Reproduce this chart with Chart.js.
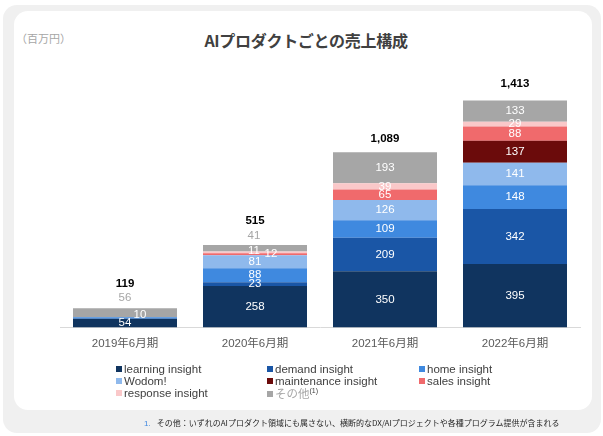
<!DOCTYPE html>
<html lang="ja">
<head>
<meta charset="utf-8">
<script src="https://cdn.jsdelivr.net/npm/chart.js@4.4.0/dist/chart.umd.min.js"></script>
<style>
  html, body { margin: 0; padding: 0; width: 603px; height: 436px; overflow: hidden; background: #fff;
    font-family: "Liberation Sans", Arial, "Noto Sans CJK JP", sans-serif; }
  #frame { position: absolute; left: 3px; top: 5px; width: 598px; height: 428px; background: #f0f0f0; border-radius: 14px; }
  #card { position: absolute; left: 14px; top: 11px; width: 578px; height: 399px; background: #fff; border-radius: 14px; }
  #unit { position: absolute; left: 16px; top: 30px; line-height: 16px; font-size: 11px; color: #a6a6a6; font-family: "Noto Sans CJK JP", sans-serif; }
  #title { position: absolute; left: 0; top: 30px; width: 612px; text-align: center; line-height: 20px;
    font-size: 16px; font-weight: bold; color: #404040; font-family: "Noto Sans CJK JP", sans-serif; letter-spacing: -0.3px; }
  #wrap { position: absolute; left: 0; top: 0; width: 603px; height: 436px; }
  #salesChart { display: block; width: 603px; height: 436px; }
  .lg { position: absolute; font-size: 11.5px; line-height: 12px; color: #404040; white-space: nowrap; }
  .lg i { display: inline-block; width: 6px; height: 6px; margin-right: 2px; vertical-align: 1px; }
  .lg sup { font-size: 7px; color: #404040; vertical-align: 5px; line-height: 0; }
  #note { position: absolute; left: 144px; top: 417px; font-size: 8px; line-height: 12px; color: #262626; white-space: nowrap;
    font-family: "Noto Sans CJK JP", sans-serif; }
  #note b { font-weight: normal; color: #3f88e0; margin-right: 6px; font-family: "Liberation Sans", Arial, sans-serif; }
</style>
</head>
<body>
<div id="frame"></div>
<div id="card"></div>
<div id="unit">（百万円）</div>
<div id="title">AIプロダクトごとの売上構成</div>
<div id="wrap"><canvas id="salesChart" width="603" height="436"></canvas></div>
<div id="legendBox"></div>
<div id="note"><b>1.</b>その他：いずれのAIプロダクト領域にも属さない、横断的なDX/AIプロジェクトや各種プログラム提供が含まれる</div>
<script>
// 期ごとの売上（百万円）
const years = ["2019年6月期", "2020年6月期", "2021年6月期", "2022年6月期"];
const learningInsight = [54, 258, 350, 395];
const demandInsight = [0, 23, 209, 342];
const homeInsight = [10, 88, 109, 148];
const wodom = [0, 81, 126, 141];
const maintenanceInsight = [0, 0, 0, 137];
const salesInsight = [0, 12, 65, 88];
const responseInsight = [0, 11, 39, 29];
const others = [56, 41, 193, 133];
const totals = [119, 515, 1089, 1413];

const seriesNames = ["learning insight", "demand insight", "home insight", "Wodom!",
  "maintenance insight", "sales insight", "response insight", "その他"];
const seriesValues = [learningInsight, demandInsight, homeInsight, wodom,
  maintenanceInsight, salesInsight, responseInsight, others];
const seriesColors = ["#10345f", "#1a56a6", "#3f89df", "#8fb9ec",
  "#6b0b0b", "#f06a6c", "#fac8c9", "#a6a6a6"];

// 重なるラベルだけずらす（系列-期）
const labelShift = {
  "2-0": [15, -3],
  "7-0": [0, -15],
  "5-1": [16, 0],
  "6-1": [-1, -2],
  "7-1": [-1, -12]
};
const outsideLabels = ["7-0", "7-1"];
const totalLift = [24, 24, 13, 17];

const valueLabels = {
  id: "valueLabels",
  afterDatasetsDraw(chart) {
    const { ctx } = chart;
    ctx.save();
    ctx.textAlign = "center";
    ctx.textBaseline = "middle";
    ctx.font = "11.5px 'Liberation Sans', Arial, sans-serif";
    chart.data.datasets.forEach((ds, di) => {
      const meta = chart.getDatasetMeta(di);
      meta.data.forEach((bar, i) => {
        const v = ds.data[i];
        if (!v) return;
        const key = `${di}-${i}`;
        const shift = labelShift[key] || [0, 0];
        ctx.fillStyle = outsideLabels.includes(key) ? "#a6a6a6" : "#ffffff";
        ctx.fillText(v, bar.x + shift[0], (bar.y + bar.base) / 2 + shift[1]);
      });
    });
    // 合計
    const top = chart.getDatasetMeta(chart.data.datasets.length - 1).data;
    ctx.font = "bold 11.5px 'Liberation Sans', Arial, sans-serif";
    ctx.fillStyle = "#000000";
    totals.forEach((t, i) => {
      ctx.fillText(t.toLocaleString("en-US"), top[i].x, top[i].y - totalLift[i]);
    });
    ctx.restore();
  }
};

new Chart(document.getElementById("salesChart"), {
  type: "bar",
  data: {
    labels: years,
    datasets: seriesNames.map((name, i) => ({
      label: name,
      data: seriesValues[i],
      backgroundColor: seriesColors[i],
      borderWidth: 0,
      categoryPercentage: 1,
      barPercentage: 0.8
    }))
  },
  options: {
    responsive: false,
    maintainAspectRatio: false,
    animation: false,
    devicePixelRatio: 1,
    layout: { padding: { left: 60, right: 23, top: 60, bottom: 78.5 } },
    plugins: { legend: { display: false }, tooltip: { enabled: false } },
    scales: {
      x: {
        stacked: true,
        grid: { display: false, drawTicks: false },
        border: { display: true, color: "#d9d9d9", width: 1 },
        ticks: {
          color: "#595959",
          padding: 9,
          font: { size: 11.5, family: "'Liberation Sans', Arial, 'Noto Sans CJK JP', sans-serif" }
        },
        afterFit: s => { s.height = 30; }
      },
      y: {
        stacked: true,
        display: false,
        min: 0,
        max: 1665
      }
    }
  },
  plugins: [valueLabels]
});

// 凡例（3列）
const colX = [116, 267, 419];
const rowY = [363, 375, 387];
const legendBox = document.getElementById("legendBox");
seriesNames.forEach((name, i) => {
  const el = document.createElement("div");
  el.className = "lg";
  el.style.left = colX[i % 3] + "px";
  el.style.top = rowY[Math.floor(i / 3)] + "px";
  const isOther = i === seriesNames.length - 1;
  el.innerHTML = `<i style="background:${seriesColors[i]}"></i>` +
    (isOther ? `<span style="color:#a6a6a6;font-family:'Noto Sans CJK JP',sans-serif">${name}</span><sup>(1)</sup>` : name);
  legendBox.appendChild(el);
});
</script>
</body>
</html>
